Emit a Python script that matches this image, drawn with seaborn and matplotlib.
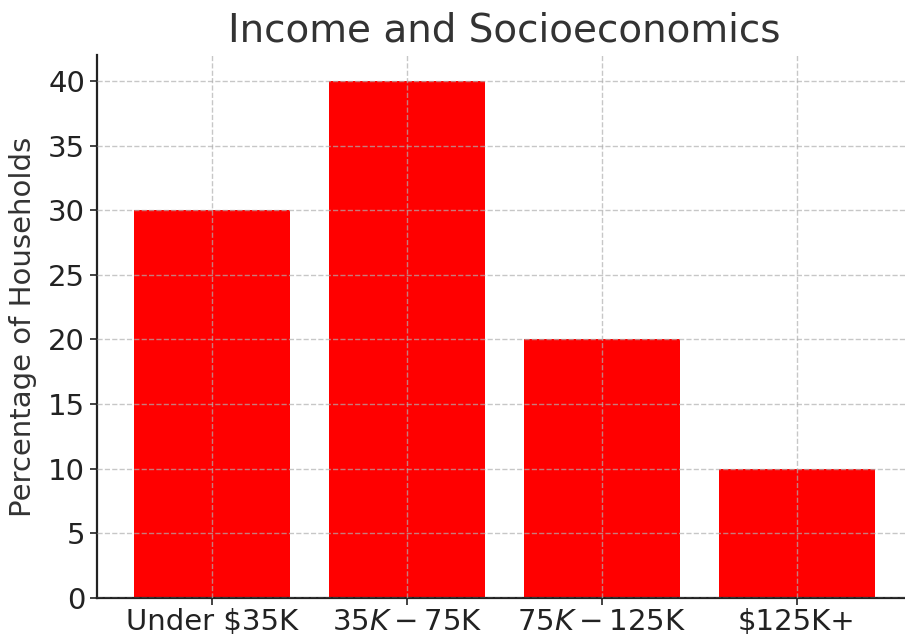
import matplotlib
matplotlib.use("Agg")
import matplotlib.pyplot as plt
import seaborn as sns
import pandas as pd

categories = ["Under $35K", "$35K-$75K", "$75K-$125K", "$125K+"]
percentages = [30, 40, 20, 10]

df = pd.DataFrame({"Income": categories, "Percentage": percentages})

sns.set_style("white")
plt.rcParams['font.family'] = ['DejaVu Sans']

fig = plt.figure(figsize=(9.05, 6.35), dpi=100)
ax = fig.add_axes([97/905, 37/635, 815/905, 543/635])

sns.barplot(data=df, x="Income", y="Percentage", color="red", saturation=1,
            width=0.8, ax=ax, zorder=1, linewidth=0)

ax.set_xlim(-0.59, 3.59)
ax.set_ylim(0, 42)
ax.set_yticks(range(0, 45, 5))

ax.grid(True, linestyle="--", color="#b0b0b0", alpha=0.7, linewidth=1.0)
ax.set_axisbelow(False)

for s in ["top", "right"]:
    ax.spines[s].set_visible(False)
for s in ["left", "bottom"]:
    ax.spines[s].set_color("#222222")
    ax.spines[s].set_linewidth(1.6)

ax.tick_params(axis="both", which="both", length=5, width=1.2, color="#222222",
               labelsize=21, labelcolor="#222222", bottom=True, left=True)
ax.tick_params(axis="x", pad=2)

ax.set_xlabel("")
ax.set_ylabel("Percentage of Households", fontsize=21, color="#333333", labelpad=8)
ax.set_title("Income and Socioeconomics", fontsize=28, color="#333333", pad=10)

fig.savefig("out.png", dpi=100)
